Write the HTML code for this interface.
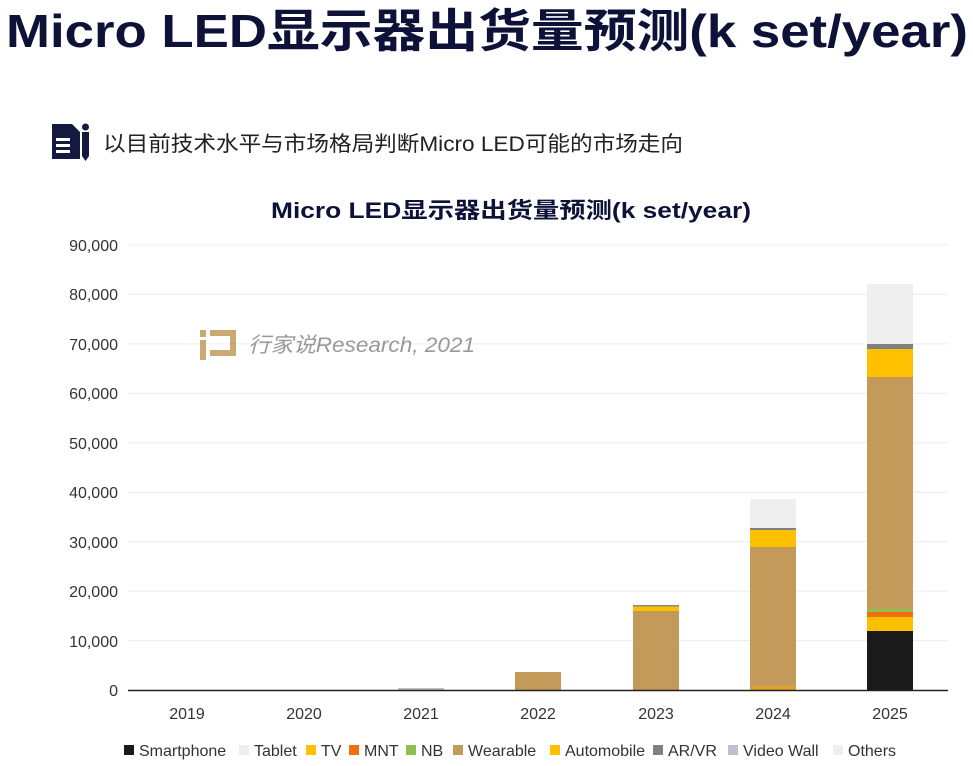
<!DOCTYPE html>
<html><head><meta charset="utf-8"><style>
html,body{margin:0;padding:0;background:#fff;}
svg{display:block;}
text{font-family:"Liberation Sans","Noto Sans CJK SC",sans-serif;}
</style></head><body>
<svg width="973" height="766" viewBox="0 0 973 766" xmlns="http://www.w3.org/2000/svg">
<rect width="973" height="766" fill="#fff"/>
<text x="6" y="47" font-size="46" font-weight="bold" fill="#0e1238" textLength="962" lengthAdjust="spacingAndGlyphs">Micro LED显示器出货量预测(k set/year)</text>
<g fill="#141a3f">
<path d="M52 124 h20 l8 8 v27 h-28z"/>
<rect x="82" y="132" width="7" height="24"/>
<path d="M82 156 h7 l-3.5 5z"/>
<circle cx="85.5" cy="127" r="3.5"/>
</g>
<g fill="#fff"><rect x="56" y="138" width="14" height="3"/><rect x="56" y="144" width="14" height="3"/><rect x="56" y="150" width="14" height="3"/></g>
<text x="103" y="151" font-size="21" fill="#222" textLength="580" lengthAdjust="spacingAndGlyphs">以目前技术水平与市场格局判断Micro LED可能的市场走向</text>
<text x="271" y="218" font-size="22" font-weight="bold" fill="#0e1238" textLength="480" lengthAdjust="spacingAndGlyphs">Micro LED显示器出货量预测(k set/year)</text>
<g stroke="#ececec" stroke-width="1">
<line x1="128" x2="948" y1="245" y2="245"/><line x1="128" x2="948" y1="294.4" y2="294.4"/>
<line x1="128" x2="948" y1="343.9" y2="343.9"/><line x1="128" x2="948" y1="393.3" y2="393.3"/>
<line x1="128" x2="948" y1="442.8" y2="442.8"/><line x1="128" x2="948" y1="492.2" y2="492.2"/>
<line x1="128" x2="948" y1="541.7" y2="541.7"/><line x1="128" x2="948" y1="591.1" y2="591.1"/>
<line x1="128" x2="948" y1="640.6" y2="640.6"/>
</g>
<g font-size="16" fill="#333" text-anchor="end">
<text x="118" y="251">90,000</text><text x="118" y="300">80,000</text><text x="118" y="350">70,000</text>
<text x="118" y="399">60,000</text><text x="118" y="449">50,000</text><text x="118" y="498">40,000</text>
<text x="118" y="548">30,000</text><text x="118" y="597">20,000</text><text x="118" y="647">10,000</text>
<text x="118" y="696">0</text>
</g>
<g fill="#c49a5a" opacity="0.85"><rect x="200" y="330" width="6" height="7"/><rect x="200" y="340" width="6" height="20"/><path d="M210 330 h26 v26 h-26 v-6 h20 v-14 h-20z"/></g>
<text x="248" y="352" font-size="21" fill="#999" font-style="italic" textLength="227" lengthAdjust="spacingAndGlyphs">行家说Research, 2021</text>
<rect x="398" y="688" width="46" height="2.5" fill="#c0c0cc"/>
<rect x="515" y="672" width="46" height="18" fill="#c49a5a"/>
<rect x="633" y="611" width="46" height="79" fill="#c49a5a"/>
<rect x="633" y="606" width="46" height="5" fill="#ffc000"/>
<rect x="633" y="605" width="46" height="1.5" fill="#888"/>
<rect x="750" y="499" width="46" height="29" fill="#efefef"/>
<rect x="750" y="528" width="46" height="2" fill="#808080"/>
<rect x="750" y="530" width="46" height="17" fill="#ffc000"/>
<rect x="750" y="547" width="46" height="141" fill="#c49a5a"/>
<rect x="750" y="686" width="46" height="4" fill="#e0a030"/>
<rect x="867" y="284" width="46" height="60" fill="#efefef"/>
<rect x="867" y="344" width="46" height="5" fill="#808080"/>
<rect x="867" y="349" width="46" height="28" fill="#ffc000"/>
<rect x="867" y="377" width="46" height="232" fill="#c49a5a"/>
<rect x="867" y="609" width="46" height="3" fill="#8fbf50"/>
<rect x="867" y="612" width="46" height="5" fill="#f07010"/>
<rect x="867" y="617" width="46" height="14" fill="#ffc000"/>
<rect x="867" y="631" width="46" height="59" fill="#1a1a1a"/>
<line x1="128" x2="948" y1="690.5" y2="690.5" stroke="#222" stroke-width="1.5"/>
<g font-size="16" fill="#333" text-anchor="middle">
<text x="187" y="719">2019</text><text x="304" y="719">2020</text><text x="421" y="719">2021</text>
<text x="538" y="719">2022</text><text x="656" y="719">2023</text><text x="773" y="719">2024</text><text x="890" y="719">2025</text>
</g>
<g font-size="16" fill="#333">
<rect x="124" y="745" width="10" height="10" fill="#1a1a1a"/><text x="139" y="756">Smartphone</text>
<rect x="239" y="745" width="10" height="10" fill="#efefef"/><text x="254" y="756">Tablet</text>
<rect x="306" y="745" width="10" height="10" fill="#ffc000"/><text x="321" y="756">TV</text>
<rect x="349" y="745" width="10" height="10" fill="#f07010"/><text x="364" y="756">MNT</text>
<rect x="406" y="745" width="10" height="10" fill="#8fbf50"/><text x="421" y="756">NB</text>
<rect x="453" y="745" width="10" height="10" fill="#c49a5a"/><text x="468" y="756">Wearable</text>
<rect x="550" y="745" width="10" height="10" fill="#ffc000"/><text x="565" y="756">Automobile</text>
<rect x="653" y="745" width="10" height="10" fill="#808080"/><text x="668" y="756">AR/VR</text>
<rect x="728" y="745" width="10" height="10" fill="#c0c0cc"/><text x="743" y="756">Video Wall</text>
<rect x="833" y="745" width="10" height="10" fill="#efefef"/><text x="848" y="756">Others</text>
</g>
</svg>
</body></html>
